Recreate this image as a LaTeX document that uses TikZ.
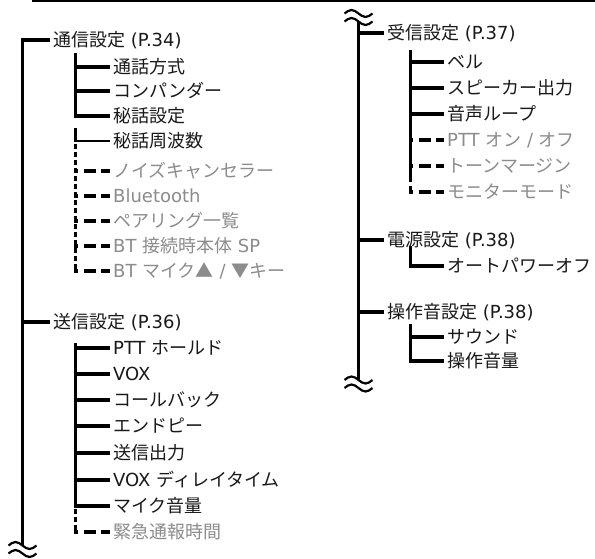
\documentclass[tikz,border=0pt]{standalone}
\usepackage{fontspec}
\setmainfont{DejaVu Sans}
\newfontfamily\jpfont{Noto Sans CJK JP}
\newcommand\jp[1]{{\jpfont #1}}
\definecolor{txtgray}{RGB}{140,140,140}
\definecolor{txtblack}{RGB}{25,25,25}
\tikzset{
  ln/.style={line width=3.5pt, line cap=butt, line join=miter},
  hln/.style={ln, shorten <=-1.75pt},
  dsh/.style={line width=3.5pt, line cap=butt, shorten <=-1.75pt, dash pattern=on 4.5pt off 6pt on 12pt off 5pt on 10pt},
  vseg/.style={line width=3.5pt, line cap=butt},
  itm/.style={anchor=west, inner xsep=3pt, inner ysep=0pt, text height=15.5pt, text depth=2.5pt,
              font=\fontsize{18}{20}\selectfont, text=txtblack},
  opt/.style={itm, text=txtgray},
  squig/.pic={\draw[line width=2.2pt] (-14,0) sin (-7,-3.5) cos (0,0) sin (7,3.5) cos (14,0);}
}
\begin{document}
\begin{tikzpicture}[x=1pt,y=-1pt]
\fill[white] (0,0) rectangle (595,559);
\useasboundingbox (0,0) rectangle (595,559);

% top rule
\coordinate (TL) at (32,1);
\coordinate (TR) at (595,1);
\draw[line width=2.5pt] (TL) -- (TR);

% ---------- left column ----------
\node[itm] (A0) at (50,40)  {\jp{通信設定} (P.34)};
\node[itm] (A1) at (110,67) {\jp{通話方式}};
\node[itm] (A2) at (110,91) {\jp{コンパンダー}};
\node[itm] (A3) at (110,116) {\jp{秘話設定}};
\node[itm] (A4) at (110,141) {\jp{秘話周波数}};
\node[opt] (A5) at (110,171) {\jp{ノイズキャンセラー}};
\node[opt] (A6) at (110,196) {Bluetooth};
\node[opt] (A7) at (110,221) {\jp{ペアリング一覧}};
\node[opt] (A8) at (110,246) {BT \jp{接続時本体} SP};
\node[opt] (A9) at (110,271) {BT \jp{マイク▲} / \jp{▼キー}};

\node[itm] (B0) at (50,322)  {\jp{送信設定} (P.36)};
\node[itm] (B1) at (110,348) {PTT \jp{ホールド}};
\node[itm] (B2) at (110,374) {VOX};
\node[itm] (B3) at (110,400) {\jp{コールバック}};
\node[itm] (B4) at (110,426) {\jp{エンドピー}};
\node[itm] (B5) at (110,453) {\jp{送信出力}};
\node[itm] (B6) at (110,480) {VOX \jp{ディレイタイム}};
\node[itm] (B7) at (110,506) {\jp{マイク音量}};
\node[opt] (B8) at (110,532) {\jp{緊急通報時間}};

% main trunk left
\coordinate (LB) at (22.5,545.5);
\draw[ln] (LB) |- (A0.west);
\draw[hln] (B0.west -| LB) -- (B0.west);
\pic at (22.5,545.5) {squig};
\pic at (22.5,553.5) {squig};

% sub trunk A
\coordinate (AS1) at (75.5,52.7);
\coordinate (AS2) at (75.5,118);
\coordinate (AS3) at (75.5,128);
\coordinate (AS4) at (75.5,141);
\draw[ln] (AS1) -- (AS2);
\foreach \n in {A1,A2,A3} \draw[hln] (\n.west -| AS1) -- (\n.west);
\draw[ln] (AS3) -- (AS4);
\draw[line width=2.4pt, shorten <=-1.75pt] (A4.west -| AS3) -- (A4.west);
\foreach \y in {144,152,...,264} \draw[vseg] (75.5,\y) -- (75.5,\y+5);
\draw[vseg] (75.5,267) -- (AS4 |- A9.west);
\foreach \n in {A5,A6,A7,A8,A9} \draw[dsh] (\n.west -| AS4) -- (\n.west);

% sub trunk B
\coordinate (BS1) at (75.5,343);
\draw[ln] (BS1) -- (BS1 |- B7.west);
\foreach \n in {B1,B2,B3,B4,B5,B6,B7} \draw[hln] (\n.west -| BS1) -- (\n.west);
\foreach \y in {509,517} \draw[vseg] (75.5,\y) -- (75.5,\y+5);
\draw[vseg] (75.5,525) -- (BS1 |- B8.west);
\draw[dsh] (B8.west -| BS1) -- (B8.west);

% ---------- right column ----------
\node[itm] (C0) at (384,33)  {\jp{受信設定} (P.37)};
\node[itm] (C1) at (444,62)  {\jp{ベル}};
\node[itm] (C2) at (444,88)  {\jp{スピーカー出力}};
\node[itm] (C3) at (444,114) {\jp{音声ループ}};
\node[opt] (C4) at (444,140) {PTT \jp{オン} / \jp{オフ}};
\node[opt] (C5) at (444,166) {\jp{トーンマージン}};
\node[opt] (C6) at (444,192) {\jp{モニターモード}};

\node[itm] (D0) at (384,240) {\jp{電源設定} (P.38)};
\node[itm] (D1) at (444,266) {\jp{オートパワーオフ}};

\node[itm] (E0) at (384,312) {\jp{操作音設定} (P.38)};
\node[itm] (E1) at (444,337) {\jp{サウンド}};
\node[itm] (E2) at (444,361) {\jp{操作音量}};

% main trunk right
\coordinate (RT) at (358.5,21.5);
\coordinate (RB) at (358.5,380);
\draw[ln] (RT) -- (RB);
\foreach \n in {C0,D0,E0} \draw[hln] (\n.west -| RT) -- (\n.west);
\pic at (358.5,13.5) {squig};
\pic at (358.5,21.5) {squig};
\pic at (358.5,380) {squig};
\pic at (358.5,388) {squig};

% sub trunk C
\coordinate (CS1) at (410.5,50);
\coordinate (CS2) at (410.5,182);
\draw[ln] (CS1) -- (CS2);
\foreach \n in {C1,C2,C3} \draw[hln] (\n.west -| CS1) -- (\n.west);
\foreach \n in {C4,C5} \draw[dsh] (\n.west -| CS1) -- (\n.west);
\draw[vseg] (410.5,186) -- (CS2 |- C6.west);
\draw[dsh] (C6.west -| CS2) -- (C6.west);

% sub trunk D
\coordinate (DS1) at (410.5,246);
\draw[ln] (DS1) |- (D1.west);

% sub trunk E
\coordinate (ES1) at (410.5,324);
\draw[ln] (ES1) |- (E2.west);
\draw[hln] (E1.west -| ES1) -- (E1.west);
\end{tikzpicture}
\end{document}
